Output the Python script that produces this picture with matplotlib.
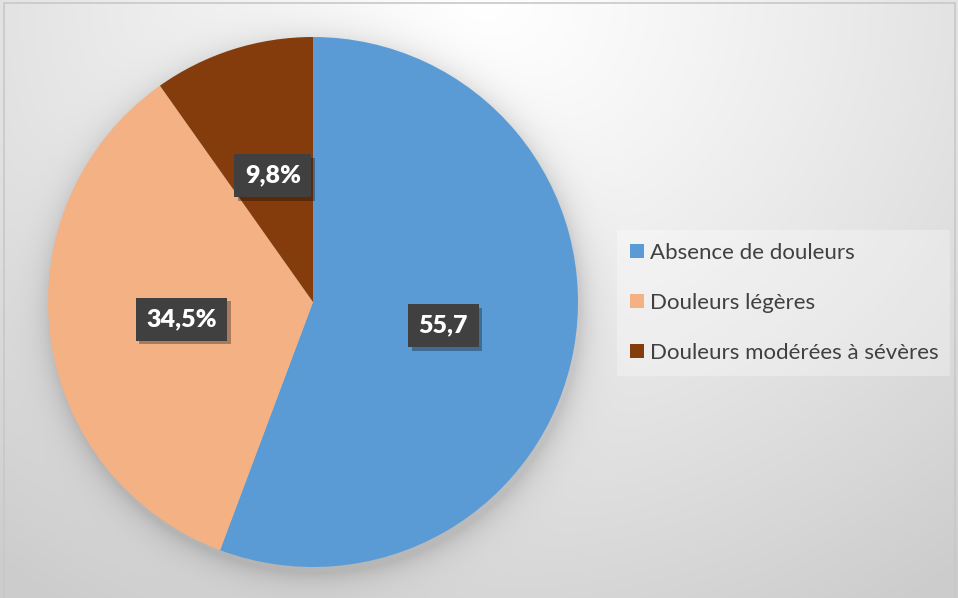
import matplotlib.pyplot as plt
import matplotlib.patheffects as pe
from matplotlib.patches import Rectangle
import numpy as np

# --- data ---
categories = ["Absence de douleurs", "Douleurs légères", "Douleurs modérées à sévères"]
values = [55.7, 34.5, 9.8]
value_labels = ["55,7", "34,5%", "9,8%"]
colors = ["#5B9BD5", "#F4B183", "#843C0C"]

W, H = 958, 598
fig = plt.figure(figsize=(W / 100, H / 100), dpi=100)

# pie geometry in pixels
cx, cy, r = 313, 302, 265

# --- background: soft radial gradient + pie shadow ---
ax_bg = fig.add_axes([0, 0, 1, 1])
yy, xx = np.mgrid[0:H, 0:W]
d_top = np.hypot((xx - 480) / 650.0, (yy - 0) / 600.0)
bg = 1.0 - 0.16 * np.clip(d_top, 0, 1.2) ** 1.2
d_pie = np.hypot(xx - cx - 2, yy - cy - 6)
shadow = 0.13 * np.exp(-np.clip(d_pie - r, 0, None) / 14.0)
bg = bg - shadow
img = np.dstack([bg, bg, bg])
ax_bg.imshow(img, extent=[0, W, H, 0], aspect='auto', interpolation='bilinear')
ax_bg.set_xlim(0, W)
ax_bg.set_ylim(H, 0)
ax_bg.axis('off')

# outer border
fig.add_artist(Rectangle((4 / W, -0.01), 951 / W, (H - 3) / H + 0.01, transform=fig.transFigure,
                         fill=False, edgecolor='#c8c8c8', linewidth=1.2))

# --- pie ---
ax = fig.add_axes([(cx - r) / W, (H - cy - r) / H, 2 * r / W, 2 * r / H])
lab_iter = iter(value_labels)
wedges, texts, autotexts = ax.pie(values, colors=colors, startangle=90, counterclock=False,
                                  autopct=lambda p: next(lab_iter), pctdistance=0.5,
                                  wedgeprops=dict(linewidth=0))
ax.set_xlim(-1, 1)
ax.set_ylim(-1, 1)
ax.set_aspect('auto')

for t in autotexts:
    t.set_fontfamily('Lato')
    t.set_fontweight('heavy')
    t.set_fontsize(18)
    t.set_color('white')
    t.set_bbox(dict(boxstyle='square,pad=0.42', facecolor='#404040', edgecolor='none'))
    t.get_bbox_patch().set_path_effects([
        pe.SimplePatchShadow(offset=(2.5, -2.5), shadow_rgbFace='black', alpha=0.3),
        pe.Normal()])

# --- legend ---
leg = ax.legend(wedges, categories, loc='center left',
                bbox_to_anchor=(617 / W, 1 - 379 / H, 333 / W, 152 / H),
                bbox_transform=fig.transFigure, mode='expand',
                prop={'family': 'Lato', 'size': 16},
                labelcolor='#404040', frameon=True, fancybox=False,
                handlelength=0.62, handleheight=0.62, handletextpad=0.25,
                labelspacing=1.35, borderpad=0.6, borderaxespad=0)
leg.get_frame().set_facecolor('white')
leg.get_frame().set_alpha(0.3)
leg.get_frame().set_edgecolor('none')

fig.savefig('out.png', dpi=100)
